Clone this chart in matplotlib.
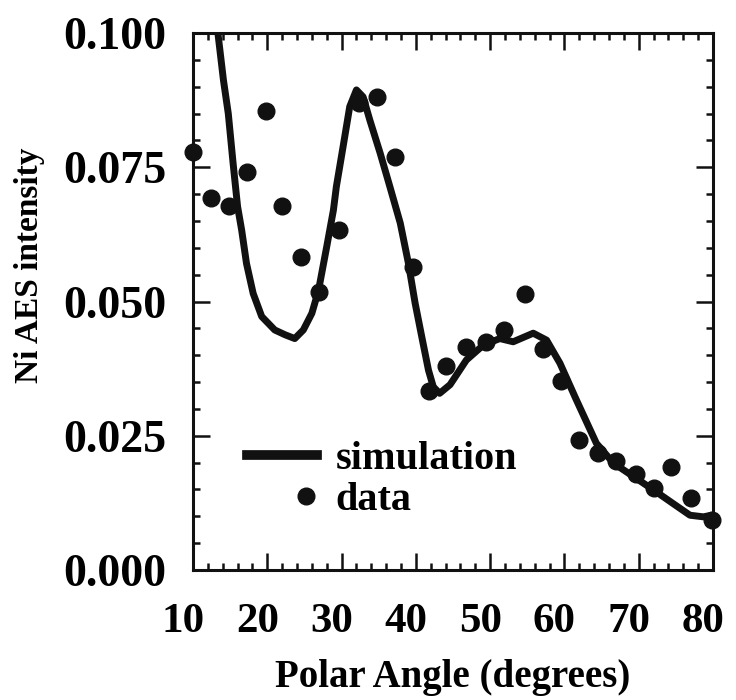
import numpy as np
import matplotlib
matplotlib.use("Agg")
import matplotlib.pyplot as plt
from matplotlib.lines import Line2D
from matplotlib.legend_handler import HandlerLine2D
import matplotlib.transforms as mtransforms

# ---- data ----
data_angle = [10.0, 12.4, 14.8, 17.3, 19.8, 22.0, 24.5, 26.9, 29.6, 32.3,
              34.8, 37.2, 39.6, 41.8, 44.1, 46.8, 49.4, 51.9, 54.7, 57.1,
              59.5, 62.0, 64.5, 67.0, 69.6, 72.1, 74.4, 77.0, 79.8]
data_intensity = [0.0779, 0.0693, 0.0678, 0.0742, 0.0855, 0.0678, 0.0582, 0.0518, 0.0634, 0.0870,
                  0.0880, 0.0770, 0.0564, 0.0333, 0.0380, 0.0416, 0.0425, 0.0447, 0.0514, 0.0412,
                  0.0352, 0.0242, 0.0217, 0.0203, 0.0178, 0.0152, 0.0191, 0.0135, 0.0094]

sim_angle = [12.9, 13.3, 14.1, 14.75, 15.4, 16.0, 16.55, 17.2, 18.1, 19.25,
             21.0, 22.4, 23.7, 24.85, 26.0, 26.9, 28.0, 28.9, 29.3, 30.2,
             31.1, 32.0, 32.9, 33.8, 35.2, 36.5, 37.9, 39.0, 39.9, 40.8,
             41.7, 42.35, 43.2, 44.6, 46.8, 49.1, 51.3, 53.1, 55.8, 57.6,
             59.4, 61.6, 64.3, 66.6, 69.3, 72.0, 74.6, 76.9, 78.7, 79.8]
sim_intensity = [0.1070, 0.1006, 0.0912, 0.0850, 0.0757, 0.0677, 0.0633, 0.0571, 0.0515, 0.0472,
                 0.0447, 0.0438, 0.0431, 0.0447, 0.0478, 0.0521, 0.0602, 0.0670, 0.0714, 0.0788,
                 0.0863, 0.0894, 0.0881, 0.0838, 0.0776, 0.0714, 0.0646, 0.0571, 0.0497, 0.0434,
                 0.0372, 0.0341, 0.0329, 0.0345, 0.0391, 0.0419, 0.0431, 0.0425, 0.0441, 0.0428,
                 0.0385, 0.0317, 0.0236, 0.0199, 0.0174, 0.0149, 0.0124, 0.0102, 0.0099, 0.0102]

x_ticks = [10, 20, 30, 40, 50, 60, 70, 80]
y_ticks = [0.000, 0.025, 0.050, 0.075, 0.100]
y_tick_labels = ["0.000", "0.025", "0.050", "0.075", "0.100"]

plt.rcParams['font.family'] = ['Liberation Serif', 'DejaVu Serif']

fig = plt.figure(figsize=(7.36, 7.0), dpi=100)
ax = fig.add_axes([193/736, 1-570/700, (713-193)/736, (570-33)/700])

ax.plot(sim_angle, sim_intensity, color='#111111', lw=5, solid_capstyle='round',
        solid_joinstyle='round', label='simulation', clip_on=True)
ax.plot(data_angle, data_intensity, 'o', color='#111111', ms=12, label='data', clip_on=False)

ax.set_xlim(10, 80)
ax.set_ylim(0, 0.1)
ax.set_xticks(x_ticks)
ax.set_xticks(np.arange(10, 81, 2), minor=True)
ax.set_yticks(y_ticks)
ax.set_yticklabels(y_tick_labels)
ax.set_yticks(np.arange(0, 0.1001, 0.005), minor=True)

for s in ax.spines.values():
    s.set_linewidth(2.2)
    s.set_color('#111111')

ax.tick_params(which='both', direction='in', top=True, right=True, color='#111111', width=1.8)
ax.tick_params(which='major', length=12)
ax.tick_params(which='minor', length=5)
ax.tick_params(axis='x', which='major', pad=24, labelsize=31)
ax.tick_params(axis='y', which='major', pad=19, labelsize=33)
for lab in ax.get_xticklabels() + ax.get_yticklabels():
    lab.set_fontweight('bold')

off = mtransforms.ScaledTranslation(-10/100, 0, fig.dpi_scale_trans)
for lab in ax.get_xticklabels():
    lab.set_transform(lab.get_transform() + off)

ax.set_xlabel("Polar Angle (degrees)", fontsize=28, fontweight='bold')
ax.set_ylabel("Ni AES intensity", fontsize=24, fontweight='bold')
ax.yaxis.set_label_coords(-0.285, 0.568)
ax.xaxis.set_label_coords(0.5, -0.165)


class RightDot(HandlerLine2D):
    def get_xdata(self, legend, xdescent, ydescent, width, height, fontsize):
        # marker is placed at the middle of xdata -> 0.84 of the handle width
        xd = np.array([-xdescent + 0.68 * width, -xdescent + width])
        return xd, xd


h_line = Line2D([], [], color='#111111', lw=7)
h_dot = Line2D([], [], color='#111111', marker='o', ls='none', ms=12)
leg = ax.legend([h_line, h_dot], ['simulation', 'data'], loc='upper left',
                bbox_to_anchor=((247-193)/520, (570-441)/537), frameon=False,
                prop={'size': 29, 'weight': 'bold'}, handlelength=1.75, handletextpad=0.45,
                labelspacing=0.1, borderpad=0, borderaxespad=0,
                handler_map={h_dot: RightDot(numpoints=1)})

fig.savefig("out.png", dpi=100)
